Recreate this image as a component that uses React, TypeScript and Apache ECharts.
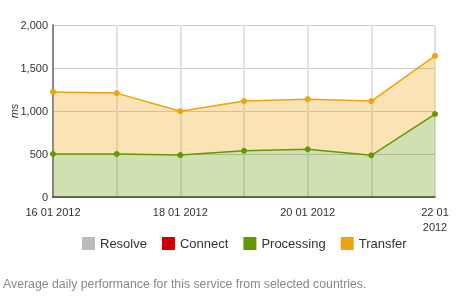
import React, { useEffect, useRef } from "react";
import * as echarts from "echarts";

const categories = ["16 01 2012", "17 01 2012", "18 01 2012", "19 01 2012", "20 01 2012", "21 01 2012", "22 01 2012"];
const resolve = [0, 0, 0, 0, 0, 0, 0];
const connect = [0, 0, 0, 0, 0, 0, 0];
const processing = [500, 500, 488, 537, 555, 485, 965];
const transfer = [722, 708, 510, 578, 583, 630, 675];
const yTicks = [0, 500, 1000, 1500, 2000];
const footer = "Average daily performance for this service from selected countries.";

const colors = { resolve: "#bbbbbb", connect: "#cc0000", processing: "#669900", transfer: "#f0a30a" };

export default function App() {
  const ref = useRef<HTMLDivElement>(null);
  useEffect(() => {
    if (!ref.current) return;
    const chart = echarts.init(ref.current, null, { renderer: "svg" });
    const fmt = (v: number) => v.toLocaleString("en-US");
    const mk = (name: string, data: number[], color: string, visible: boolean) => ({
      name,
      type: "line",
      stack: "total",
      data,
      color,
      symbol: "circle",
      symbolSize: 6,
      showSymbol: visible,
      lineStyle: { color, width: visible ? 1.5 : 0 },
      itemStyle: { color },
      areaStyle: visible ? { color, opacity: 0.3 } : undefined,
      emphasis: { disabled: true },
    });
    chart.setOption({
      animation: false,
      textStyle: { fontFamily: "Liberation Sans, Arial, sans-serif" },
      grid: { left: 53, right: 29, top: 25, bottom: 105, containLabel: false, outerBoundsMode: "none" },
      legend: {
        left: 77,
        top: 232,
        icon: "rect",
        itemWidth: 13,
        itemHeight: 13,
        itemGap: 15,
        textStyle: { color: "#333", fontSize: 13 },
        data: ["Resolve", "Connect", "Processing", "Transfer"],
      },
      xAxis: {
        type: "category",
        data: categories,
        boundaryGap: false,
        axisLine: { lineStyle: { color: "#333", width: 1.5 } },
        axisTick: { show: false },
        axisLabel: {
          interval: 1,
          color: "#333",
          fontSize: 11,
          margin: 7,
          lineHeight: 15,
          formatter: (v: string, i: number) => (i === categories.length - 1 ? v.slice(0, 5) + "\n" + v.slice(6) : v),
        },
        splitLine: { show: true, interval: 0, lineStyle: { color: "#e2e2e2", width: 2 } },
      },
      yAxis: {
        type: "value",
        min: yTicks[0],
        max: yTicks[yTicks.length - 1],
        interval: 500,
        name: "ms",
        nameLocation: "middle",
        nameGap: 34,
        nameMoveOverlap: false,
        nameTextStyle: { color: "#333", fontSize: 11, fontStyle: "italic" },
        axisLine: { show: true, lineStyle: { color: "#888", width: 2 } },
        axisTick: { show: false },
        axisLabel: { color: "#333", fontSize: 11, margin: 5, formatter: fmt },
        splitLine: { lineStyle: { color: "#cccccc", width: 1 } },
      },
      graphic: [
        {
          type: "text",
          left: 3,
          top: 278,
          style: { text: footer, fill: "#888", fontSize: 12.3, fontFamily: "Liberation Sans, Arial, sans-serif" },
        },
      ],
      series: [
        mk("Resolve", resolve, colors.resolve, false),
        mk("Connect", connect, colors.connect, false),
        mk("Processing", processing, colors.processing, true),
        mk("Transfer", transfer, colors.transfer, true),
      ],
    });
    return () => chart.dispose();
  }, []);
  return <div ref={ref} style={{ position: "fixed", left: 0, top: 0, width: 464, height: 302 }} />;
}
